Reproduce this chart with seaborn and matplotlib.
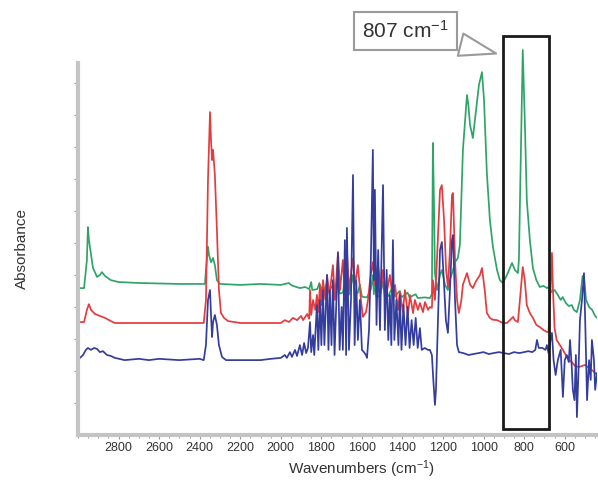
import matplotlib
matplotlib.use("Agg")
import matplotlib.pyplot as plt
import numpy as np
import pandas as pd
import seaborn as sns
from matplotlib.patches import Rectangle
from matplotlib.ticker import FixedLocator, MultipleLocator

# ---------------- data ----------------
green_wn = [3000, 2970, 2956, 2951, 2946, 2926, 2906, 2892, 2882, 2867, 2838, 2800, 2700, 2500,
            2400, 2374, 2369, 2359, 2354, 2344, 2334, 2325, 2315, 2300, 2200, 2100, 2000, 1960,
            1950, 1940, 1906, 1880, 1860, 1850, 1845, 1820, 1810, 1800, 1792, 1785, 1772, 1765,
            1743, 1735, 1718, 1710, 1694, 1684, 1678, 1674, 1664, 1644, 1636, 1620, 1610, 1600,
            1575, 1556, 1546, 1541, 1536, 1528, 1511, 1496, 1487, 1470, 1447, 1440, 1413, 1405,
            1375, 1365, 1335, 1325, 1290, 1265, 1255, 1250, 1245, 1240, 1230, 1215, 1206, 1190,
            1176, 1166, 1151, 1141, 1127, 1117, 1102, 1082, 1075, 1067, 1053, 1040, 1023, 1008,
            998, 984, 969, 954, 934, 920, 905, 885, 870, 860, 846, 831, 826, 816, 807, 797, 787,
            772, 757, 740, 723, 705, 688, 680, 665, 650, 634, 620, 610, 595, 580, 565, 555, 540,
            525, 512, 505, 495, 480, 465, 450, 441]
green_abs = [0.459, 0.459, 0.547, 0.650, 0.609, 0.522, 0.494, 0.500, 0.509, 0.497, 0.484, 0.478,
             0.475, 0.472, 0.472, 0.472, 0.516, 0.588, 0.5625, 0.540, 0.553, 0.531, 0.484, 0.472,
             0.469, 0.472, 0.469, 0.475, 0.469, 0.466, 0.459, 0.4625, 0.456, 0.478, 0.453, 0.456,
             0.475, 0.450, 0.470, 0.448, 0.478, 0.446, 0.470, 0.444, 0.490, 0.442, 0.445, 0.485,
             0.440, 0.495, 0.438, 0.500, 0.436, 0.445, 0.470, 0.432, 0.430, 0.455, 0.500, 0.440,
             0.485, 0.432, 0.435, 0.480, 0.432, 0.434, 0.465, 0.432, 0.450, 0.430, 0.445, 0.430,
             0.440, 0.428, 0.430, 0.428, 0.440, 0.9125, 0.734, 0.506, 0.453, 0.500, 0.516, 0.469,
             0.453, 0.484, 0.516, 0.540, 0.553, 0.594, 0.891, 1.0625, 1.030, 0.969, 0.928, 1.000,
             1.094, 1.134, 1.047, 0.819, 0.672, 0.5875, 0.516, 0.484, 0.475, 0.500, 0.522, 0.5375,
             0.516, 0.506, 0.547, 0.891, 1.203, 0.984, 0.734, 0.609, 0.522, 0.484, 0.4625, 0.466,
             0.459, 0.4625, 0.447, 0.453, 0.4375, 0.422, 0.431, 0.4125, 0.403, 0.406, 0.391, 0.384,
             0.422, 0.497, 0.494, 0.422, 0.400, 0.391, 0.372, 0.366]

red_wn = [3000, 2970, 2956, 2946, 2936, 2916, 2892, 2867, 2838, 2818, 2600, 2400, 2380, 2369,
          2359, 2349, 2344, 2339, 2334, 2325, 2315, 2305, 2295, 2280, 2260, 2200, 2000, 1980,
          1960, 1940, 1920, 1900, 1890, 1870, 1860, 1856, 1850, 1841, 1830, 1822, 1815, 1807,
          1800, 1792, 1780, 1772, 1760, 1743, 1733, 1718, 1708, 1694, 1684, 1674, 1664, 1644,
          1634, 1620, 1605, 1595, 1580, 1570, 1560, 1546, 1536, 1521, 1505, 1496, 1480, 1462,
          1447, 1437, 1422, 1413, 1398, 1388, 1373, 1363, 1348, 1339, 1324, 1314, 1299, 1289,
          1274, 1265, 1255, 1250, 1240, 1230, 1215, 1206, 1195, 1185, 1176, 1166, 1156, 1151,
          1141, 1131, 1122, 1110, 1102, 1082, 1067, 1053, 1038, 1018, 1008, 994, 984, 969, 954,
          934, 905, 885, 870, 855, 846, 831, 821, 807, 797, 787, 772, 757, 740, 723, 705, 688,
          680, 670, 663, 658, 650, 640, 624, 609, 595, 580, 565, 550, 530, 500, 480, 460, 441]
red_abs = [0.353, 0.353, 0.391, 0.409, 0.391, 0.378, 0.372, 0.366, 0.356, 0.350, 0.350, 0.350,
           0.350, 0.422, 0.797, 1.009, 0.922, 0.859, 0.891, 0.8125, 0.641, 0.453, 0.381, 0.366,
           0.356, 0.350, 0.350, 0.359, 0.353, 0.366, 0.359, 0.372, 0.359, 0.378, 0.363, 0.453,
           0.375, 0.422, 0.391, 0.4375, 0.384, 0.469, 0.406, 0.484, 0.422, 0.500, 0.4375, 0.531,
           0.422, 0.572, 0.453, 0.547, 0.4375, 0.578, 0.453, 0.553, 0.469, 0.531, 0.422, 0.369,
           0.384, 0.422, 0.484, 0.540, 0.469, 0.531, 0.453, 0.516, 0.4375, 0.500, 0.422, 0.469,
           0.391, 0.447, 0.384, 0.453, 0.375, 0.4375, 0.381, 0.422, 0.391, 0.4125, 0.384, 0.4156,
           0.391, 0.400, 0.397, 0.484, 0.422, 0.547, 0.766, 0.781, 0.672, 0.516, 0.4625, 0.578,
           0.750, 0.756, 0.547, 0.422, 0.381, 0.420, 0.470, 0.506, 0.470, 0.459, 0.480, 0.500,
           0.522, 0.450, 0.381, 0.366, 0.360, 0.359, 0.350, 0.350, 0.359, 0.369, 0.359, 0.353,
           0.422, 0.525, 0.484, 0.406, 0.381, 0.366, 0.344, 0.3375, 0.328, 0.322, 0.322, 0.453,
           0.569, 0.453, 0.334, 0.297, 0.281, 0.266, 0.250, 0.234, 0.228, 0.216, 0.2125, 0.219,
           0.209, 0.200, 0.1875]

blue_wn = [3000, 2990, 2975, 2961, 2951, 2936, 2921, 2906, 2892, 2877, 2857, 2838, 2818, 2770,
           2700, 2650, 2600, 2500, 2400, 2380, 2369, 2359, 2349, 2344, 2339, 2334, 2325, 2315,
           2305, 2290, 2270, 2200, 2100, 2050, 2000, 1980, 1970, 1955, 1945, 1930, 1920, 1906,
           1895, 1885, 1875, 1866, 1856, 1850, 1841, 1835, 1822, 1815, 1807, 1800, 1792, 1785,
           1772, 1765, 1758, 1750, 1743, 1735, 1718, 1710, 1700, 1694, 1684, 1678, 1674, 1664,
           1654, 1644, 1636, 1628, 1620, 1610, 1600, 1590, 1580, 1575, 1565, 1556, 1546, 1541,
           1536, 1528, 1520, 1511, 1496, 1487, 1478, 1470, 1462, 1455, 1447, 1440, 1430, 1420,
           1413, 1405, 1395, 1385, 1375, 1365, 1355, 1345, 1335, 1325, 1314, 1305, 1290, 1275,
           1265, 1255, 1248, 1240, 1235, 1225, 1215, 1206, 1196, 1186, 1176, 1166, 1156, 1151,
           1141, 1131, 1122, 1100, 1075, 1050, 1025, 1000, 975, 950, 925, 900, 875, 850, 825,
           800, 780, 760, 745, 737, 728, 710, 695, 688, 680, 670, 663, 655, 645, 634, 620, 609,
           600, 590, 580, 574, 566, 560, 552, 545, 540, 532, 525, 515, 505, 498, 490, 480, 472,
           466, 456, 450, 441]
blue_abs = [0.241, 0.241, 0.250, 0.266, 0.272, 0.266, 0.272, 0.269, 0.259, 0.262, 0.250, 0.247,
            0.241, 0.234, 0.238, 0.234, 0.238, 0.234, 0.238, 0.234, 0.281, 0.422, 0.453, 0.375,
            0.306, 0.353, 0.375, 0.344, 0.281, 0.244, 0.234, 0.234, 0.234, 0.238, 0.241, 0.250,
            0.241, 0.259, 0.244, 0.266, 0.247, 0.281, 0.250, 0.2875, 0.256, 0.272, 0.353, 0.259,
            0.3125, 0.250, 0.406, 0.266, 0.422, 0.281, 0.453, 0.281, 0.500, 0.266, 0.453, 0.281,
            0.484, 0.250, 0.569, 0.266, 0.400, 0.266, 0.609, 0.250, 0.647, 0.266, 0.422, 0.8125,
            0.281, 0.484, 0.297, 0.422, 0.266, 0.259, 0.250, 0.241, 0.328, 0.547, 0.891, 0.484,
            0.766, 0.344, 0.578, 0.328, 0.781, 0.328, 0.516, 0.297, 0.4375, 0.281, 0.609, 0.297,
            0.422, 0.281, 0.4375, 0.266, 0.406, 0.281, 0.400, 0.272, 0.359, 0.281, 0.366, 0.272,
            0.334, 0.266, 0.272, 0.266, 0.266, 0.250, 0.172, 0.094, 0.141, 0.359, 0.578, 0.603,
            0.484, 0.359, 0.319, 0.453, 0.609, 0.625, 0.422, 0.281, 0.259, 0.256, 0.250, 0.253,
            0.256, 0.259, 0.253, 0.256, 0.259, 0.256, 0.253, 0.259, 0.256, 0.259, 0.262, 0.259,
            0.266, 0.297, 0.272, 0.272, 0.266, 0.281, 0.256, 0.297, 0.319, 0.234, 0.1875, 0.234,
            0.266, 0.119, 0.234, 0.250, 0.228, 0.297, 0.219, 0.141, 0.109, 0.250, 0.056, 0.203,
            0.359, 0.422, 0.506, 0.328, 0.109, 0.234, 0.172, 0.297, 0.234, 0.141, 0.194]

x_ticks = [2800, 2600, 2400, 2200, 2000, 1800, 1600, 1400, 1200, 1000, 800, 600]
peak_label = "807 cm$^{-1}$"
box_wn = (905, 678)

# ---------------- style ----------------
sns.set_theme(style="white")
plt.rcParams["font.family"] = ["Liberation Sans", "DejaVu Sans"]
plt.rcParams["mathtext.fontset"] = "custom"
plt.rcParams["mathtext.rm"] = "Liberation Sans"
plt.rcParams["mathtext.it"] = "Liberation Sans:italic"

series_names = ["green", "red", "blue"]
palette = {"green": "#2fa468", "red": "#e23c40", "blue": "#343d9e"}

frames = []
for name, wn, ab in [("green", green_wn, green_abs), ("red", red_wn, red_abs),
                     ("blue", blue_wn, blue_abs)]:
    frames.append(pd.DataFrame({"wn": wn, "A": ab, "s": name}))
df = pd.concat(frames, ignore_index=True)

fig = plt.figure(figsize=(5.98, 4.82), dpi=100)
ax = fig.add_axes([0.1304, 0.0975, 0.8679, 0.8403])

sns.lineplot(data=df, x="wn", y="A", hue="s", hue_order=series_names, palette=palette,
             sort=False, estimator=None, units="s", legend=False, linewidth=1.25, ax=ax)

ax.set_xlim(3000, 441)
ax.set_ylim(0, 1.2656)

# spines
for side in ["top", "right"]:
    ax.spines[side].set_visible(False)
for side in ["left", "bottom"]:
    ax.spines[side].set_color("#c4c4c4")
    ax.spines[side].set_linewidth(3)
ax.spines["left"].set_bounds(0, 1.1625)

ax.xaxis.set_major_locator(FixedLocator(x_ticks))
ax.xaxis.set_minor_locator(MultipleLocator(50))
ax.set_yticks([t for t in np.arange(0.1, 1.15, 0.1)])
ax.tick_params(axis="x", which="major", length=3, width=0.8, color="#9a9a9a",
               labelsize=9, labelcolor="#333333", pad=2, bottom=True)
ax.tick_params(axis="x", which="minor", length=2, width=0.6, color="#9a9a9a", bottom=True)
ax.tick_params(axis="y", which="major", length=3, width=0.8, color="#9a9a9a",
               left=True, labelleft=False)
ax.set_xticklabels([str(t) for t in x_ticks])

ax.set_xlabel("Wavenumbers (cm$^{-1}$)", fontsize=11, color="#333333")
ax.xaxis.set_label_coords(0.547, -0.058)
ax.set_ylabel("Absorbance", fontsize=11, color="#333333")
ax.yaxis.set_label_coords(-0.095, 0.46)

# highlight rectangle around the 807 band
rect = Rectangle((box_wn[1], 0.019), box_wn[0] - box_wn[1], 1.228, fill=False,
                 edgecolor="#1a1a1a", linewidth=2, clip_on=False, zorder=5)
ax.add_patch(rect)

# callout
ax.annotate(peak_label, xy=(925, 1.19), xytext=(1385, 1.2625), textcoords="data",
            fontsize=15, color="#333333", ha="center", va="center", annotation_clip=False,
            bbox=dict(boxstyle="square,pad=0.4", fc="white", ec="#9a9a9a", lw=1.5),
            arrowprops=dict(arrowstyle="wedge,tail_width=1.1,shrink_factor=0.5",
                            fc="white", ec="#9a9a9a", lw=1.5), zorder=6)

fig.savefig("out.png", dpi=100)
